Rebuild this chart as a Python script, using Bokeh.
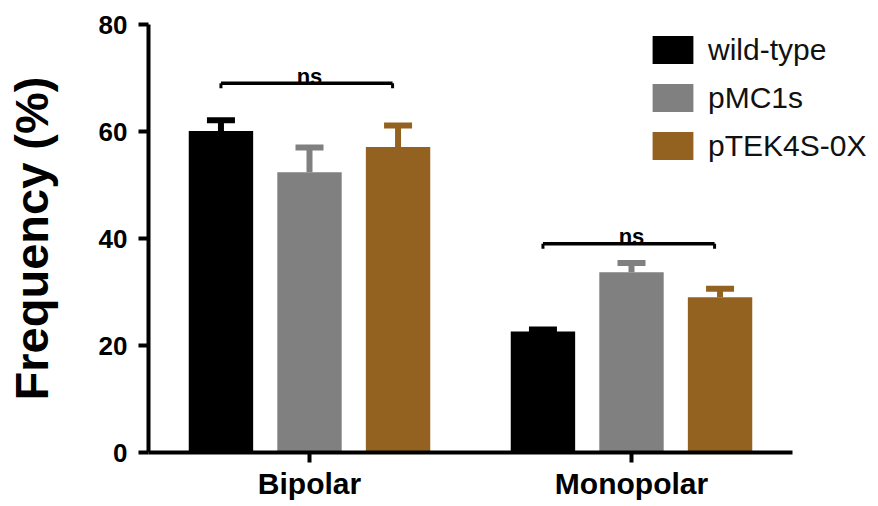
from bokeh.plotting import figure
from bokeh.models import (ColumnDataSource, Range1d, FixedTicker,
                          Whisker, TeeHead, Legend, LegendItem)
from bokeh.transform import dodge
from bokeh.core.properties import value
from bokeh.embed import file_html
from bokeh.resources import INLINE

# ---- data ----
groups = ["Bipolar", "Monopolar"]
series = ["wild-type", "pMC1s", "pTEK4S-0X"]
wt_mean = [60.1, 22.6]
wt_sem = [2.0, 0.4]
pmc_mean = [52.4, 33.7]
pmc_sem = [4.6, 1.7]
ptek_mean = [57.1, 29.0]
ptek_sem = [4.0, 1.6]
sig_labels = ["ns", "ns"]
sig_y = [69.0, 39.0]
y_ticks = [0, 20, 40, 60, 80]

colors = ["#000000", "#808080", "#946220"]
offsets = [-0.275, 0.0, 0.275]
FONT = "Liberation Sans"

# numeric positions of the group centres (one unit per group)
gx = [i + 0.5 for i in range(len(groups))]

FRAME_W = 726
PX_PER_UNIT = 322
p = figure(x_range=Range1d(0, FRAME_W / PX_PER_UNIT),
           y_range=Range1d(0, 80),
           frame_width=FRAME_W, frame_height=428,
           min_border_left=148, min_border_top=24,
           min_border_right=0, min_border_bottom=52,
           output_backend="svg", toolbar_location=None)

legend_items = []
for name, means, sems, col, off in zip(series, [wt_mean, pmc_mean, ptek_mean],
                                       [wt_sem, pmc_sem, ptek_sem], colors, offsets):
    src = ColumnDataSource(dict(x=gx, mean=means,
                                upper=[m + s for m, s in zip(means, sems)]))
    r = p.vbar(x=dodge("x", off), top="mean", width=0.2,
               source=src, fill_color=col, line_color=None)
    w = Whisker(base=dodge("x", off), upper="upper", lower="mean",
                source=src, line_color=col, line_width=6,
                upper_head=TeeHead(size=28, line_width=6, line_color=col),
                lower_head=None)
    p.add_layout(w)
    legend_items.append(LegendItem(label=name, renderers=[r]))

# significance brackets
sig_src = ColumnDataSource(dict(x=gx, y=sig_y, ylo=[v - 0.9 for v in sig_y],
                                label=sig_labels))
lo, hi = -0.275, 0.258
p.segment(x0=dodge("x", lo), x1=dodge("x", hi),
          y0="y", y1="y", source=sig_src, line_color="black", line_width=3.5)
p.segment(x0=dodge("x", lo), x1=dodge("x", lo),
          y0="y", y1="ylo", source=sig_src, line_color="black", line_width=3)
p.segment(x0=dodge("x", hi), x1=dodge("x", hi),
          y0="y", y1="ylo", source=sig_src, line_color="black", line_width=3)
p.text(x="x", y="y", text="label", source=sig_src, text_align="center",
       text_baseline="alphabetic", y_offset=-7, text_font=value(FONT),
       text_font_style="bold", text_font_size="22px", text_color="black")

legend = Legend(items=legend_items, location=(499, 289),
                glyph_width=51, glyph_height=35, label_standoff=10, spacing=13,
                padding=0, margin=0, border_line_color=None, background_fill_alpha=0,
                label_text_font=FONT, label_text_font_size="30px",
                label_text_color="#111111")
p.add_layout(legend, "center")

# axes styling
p.xgrid.visible = False
p.ygrid.visible = False
p.outline_line_color = None

p.xaxis.ticker = FixedTicker(ticks=gx)
p.xaxis.major_label_overrides = {v: g for v, g in zip(gx, groups)}
p.xaxis.bounds = (0, len(groups))
p.xaxis.minor_tick_line_color = None

p.yaxis.ticker = FixedTicker(ticks=y_ticks)
p.yaxis.axis_label = "Frequency (%)"
p.yaxis.axis_label_text_font = FONT
p.yaxis.axis_label_text_font_style = "bold"
p.yaxis.axis_label_text_font_size = "47px"
p.yaxis.axis_label_text_color = "black"
p.yaxis.axis_label_standoff = 38
p.yaxis.minor_tick_line_color = None

for ax in (p.xaxis, p.yaxis):
    ax.axis_line_width = 4
    ax.axis_line_color = "black"
    ax.major_tick_line_width = 4
    ax.major_tick_line_color = "black"
    ax.major_tick_in = 0
    ax.major_tick_out = 10
    ax.major_label_text_font = FONT
    ax.major_label_text_font_style = "bold"
    ax.major_label_text_color = "black"

p.yaxis.major_label_text_font_size = "26px"
p.yaxis.major_label_standoff = 11
p.xaxis.major_label_text_font_size = "30px"
p.xaxis.major_label_standoff = 4

open("out.html", "w").write(file_html(p, INLINE))
